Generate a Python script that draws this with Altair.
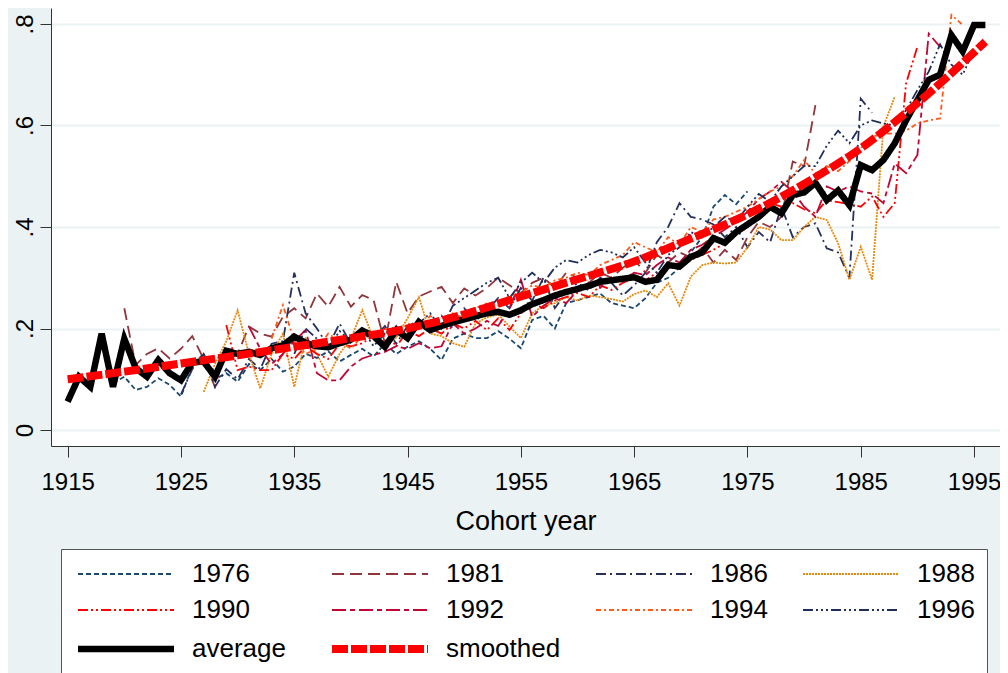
import altair as alt
import pandas as pd

# ---- data ----
series_names = ["1976", "1981", "1986", "1988", "1990", "1992", "1994", "1996", "average", "smoothed"]

start_1976 = 1919
vals_1976 = [.092, .105, .079, .085, .102, .089, .066, .125, .151, .100,
             .112, .095, .130, .118, .140, .115, .125, .150, .142, .155,
             .135, .148, .160, .145, .170, .150, .164, .175, .160, .138,
             .180, .190, .181, .181, .195, .180, .161, .217, .225, .200,
             .250, .256, .262, .269, .250, .245, .240, .260, .290, .300,
             .320, .350, .380, .440, .463, .445, .470]

start_1981 = 1920
vals_1981 = [.240, .128, .150, .161, .141, .160, .185, .140, .085, .160,
             .150, .204, .190, .184, .223, .240, .220, .269, .243, .282,
             .243, .266, .256, .171, .292, .230, .263, .273, .282, .250,
             .279, .265, .280, .300, .285, .270, .290, .300, .280, .310,
             .300, .290, .310, .300, .320, .335, .310, .345, .330, .350,
             .340, .360, .330, .355, .335, .380, .410, .400, .420, .529,
             .520, .640]

start_1986 = 1925
vals_1986 = [.070, .120, .150, .085, .120, .100, .140, .120, .170, .175,
             .310, .230, .200, .165, .210, .170, .200, .180, .205, .170,
             .205, .215, .190, .225, .200, .240, .215, .235, .260, .240,
             .280, .255, .300, .240, .270, .290, .275, .300, .290, .265,
             .285, .310, .370, .400, .447, .420, .415, .405, .380, .400,
             .360, .390, .370, .440, .380, .400, .407, .358, .350, .300,
             .653, .625]

start_1988 = 1927
vals_1988 = [.075, .130, .175, .236, .150, .082, .150, .190, .085, .180,
             .150, .105, .150, .180, .236, .180, .165, .182, .220, .262,
             .190, .185, .171, .164, .210, .222, .228, .204, .181, .230,
             .245, .250, .262, .255, .265, .262, .258, .253, .268, .275,
             .262, .289, .245, .302, .325, .330, .328, .330, .360, .400,
             .395, .374, .374, .400, .420, .414, .368, .296, .361, .296,
             .598, .657]

start_1990 = 1929
vals_1990 = [.207, .118, .125, .118, .118, .150, .140, .165, .150, .140,
             .170, .165, .171, .185, .200, .164, .195, .185, .200, .190,
             .210, .200, .215, .197, .220, .197, .230, .250, .240, .255,
             .262, .270, .262, .285, .276, .290, .300, .295, .310, .320,
             .318, .335, .345, .355, .368, .385, .400, .420, .447, .440,
             .447, .435, .427, .453, .449, .445, .440, .460, .420, .447,
             .683, .755]

start_1992 = 1931
vals_1992 = [.204, .160, .130, .150, .175, .197, .112, .098, .098, .125,
             .141, .148, .154, .165, .160, .171, .161, .165, .210, .190,
             .200, .215, .205, .240, .296, .223, .245, .260, .250, .275,
             .290, .280, .300, .295, .310, .305, .325, .340, .330, .355,
             .365, .380, .395, .410, .430, .455, .470, .489, .470, .440,
             .420, .480, .470, .480, .470, .466, .447, .525, .506, .542,
             .781, .755]

start_1994 = 1933
vals_1994 = [.180, .246, .175, .150, .160, .190, .175, .160, .185, .190,
             .200, .185, .210, .200, .225, .205, .230, .220, .240, .250,
             .245, .265, .270, .285, .280, .295, .300, .310, .305, .325,
             .335, .345, .370, .360, .350, .380, .365, .400, .390, .415,
             .420, .430, .440, .455, .470, .480, .500, .532, .505, .520,
             .510, .530, .555, .578, .584, .584, .590, .604, .610, .614,
             .818, .798]

start_1996 = 1935
vals_1996 = [.150, .200, .180, .160, .195, .175, .200, .165, .190, .205,
             .180, .210, .230, .200, .245, .260, .275, .290, .300, .260,
             .290, .310, .290, .320, .335, .330, .345, .355, .350, .340,
             .360, .330, .310, .345, .360, .390, .380, .400, .420, .410,
             .440, .465, .450, .480, .500, .520, .520, .560, .590, .565,
             .600, .610, .604, .600, .630, .670, .706, .760, .720, .700,
             .749]

start_avg = 1915
vals_avg = [.056, .105, .085, .190, .085, .180, .122, .105, .138, .112,
            .098, .133, .135, .105, .156, .150, .154, .148, .161, .167,
            .184, .172, .165, .163, .171, .178, .196, .185, .164, .197,
            .181, .213, .197, .205, .212, .218, .224, .230, .233, .227,
            .236, .248, .256, .265, .272, .278, .284, .292, .295, .298,
            .301, .292, .296, .325, .322, .341, .350, .378, .369, .390,
            .405, .420, .440, .427, .463, .468, .487, .453, .472, .443,
            .522, .512, .532, .565, .610, .650, .690, .700, .778, .746,
            .798, .798]

smooth_years = [1915, 1920, 1925, 1930, 1935, 1940, 1945, 1950, 1955,
                1960, 1965, 1970, 1975, 1980, 1985, 1990, 1996]
smooth_vals = [.100, .115, .131, .147, .164, .181, .200, .228, .263,
               .297, .332, .377, .425, .485, .555, .644, .765]

# ---- styles ----
series_colors = ["#1a476f", "#90353b", "#27305c", "#e8890c", "#ff0000",
                 "#c10534", "#ff5a1a", "#1f2d5c", "#000000", "#ff0000"]
series_dashes = [[5, 3], [12, 6], [10, 4, 2, 4], [2, 1], [10, 3, 2, 3, 2, 3],
                 [14, 4, 5, 4], [5, 3, 2, 3], [10, 3, 2, 3, 2, 3, 2, 3], [1, 0], [16, 3]]
series_widths = [1.8, 1.8, 1.8, 1.8, 1.8, 1.8, 1.8, 1.8, 6.5, 8]

rows = []
for name, start, vals in [("1976", start_1976, vals_1976), ("1981", start_1981, vals_1981),
                          ("1986", start_1986, vals_1986), ("1988", start_1988, vals_1988),
                          ("1990", start_1990, vals_1990), ("1992", start_1992, vals_1992),
                          ("1994", start_1994, vals_1994), ("1996", start_1996, vals_1996),
                          ("average", start_avg, vals_avg)]:
    for i, v in enumerate(vals):
        rows.append({"series": name, "year": start + i, "value": v})
df_lines = pd.DataFrame(rows)
df_smooth = pd.DataFrame({"series": "smoothed", "year": smooth_years, "value": smooth_vals})

legend = alt.Legend(title=None)
x_enc = alt.X("year:Q",
              scale=alt.Scale(domain=[1913.53, 1997.29], nice=False, zero=False),
              axis=alt.Axis(values=list(range(1915, 1996, 10)), format="d", title="Cohort year",
                            grid=False, labelPadding=13, titlePadding=14, labelFlush=False,
                            labelFontSize=24, titleFontSize=27))
y_enc = alt.Y("value:Q",
              scale=alt.Scale(domain=[-0.0315, 0.8315], nice=False, zero=False),
              axis=alt.Axis(values=[0, 0.2, 0.4, 0.6, 0.8], title=None, grid=True,
                            gridColor="#eaf2f3", gridWidth=2, labelAngle=270,
                            labelAlign="center", labelBaseline="alphabetic", labelPadding=8,
                            labelFlush=False, labelFontSize=24,
                            labelExpr="datum.value == 0 ? '0' : replace(format(datum.value, '.1f'), '0.', '.')"))
color_enc = alt.Color("series:N", sort=series_names,
                      scale=alt.Scale(domain=series_names, range=series_colors), legend=legend)
dash_enc = alt.StrokeDash("series:N", sort=series_names,
                          scale=alt.Scale(domain=series_names, range=series_dashes), legend=legend)
width_enc = alt.StrokeWidth("series:N", sort=series_names,
                            scale=alt.Scale(type="ordinal", domain=series_names, range=series_widths),
                            legend=legend)

lines = alt.Chart(df_lines).mark_line().encode(
    x=x_enc, y=y_enc, color=color_enc, strokeDash=dash_enc, strokeWidth=width_enc,
    detail="series:N")
smooth = alt.Chart(df_smooth).mark_line(interpolate="monotone").encode(
    x=x_enc, y=y_enc, color=color_enc, strokeDash=dash_enc, strokeWidth=width_enc)

chart = alt.layer(lines, smooth).properties(
    width=949, height=438,
    autosize=alt.AutoSizeParams(type="none"),
    padding={"left": 43, "top": 0, "right": 0, "bottom": 228},
    background="#eaf2f3",
).configure_view(
    fill="white", strokeWidth=0
).configure_axis(
    labelFont="Liberation Sans", titleFont="Liberation Sans",
    labelColor="black", titleColor="black",
    titleFontWeight="normal", domainColor="#333333", tickColor="#333333",
    tickSize=11, domainWidth=1, tickWidth=1
).configure_legend(
    orient="none", legendX=10, legendY=541, direction="horizontal", columns=4,
    symbolType="M-1,0H11", symbolSize=256, labelFont="Liberation Sans", labelFontSize=26,
    labelColor="black", labelOffset=93, rowPadding=10, columnPadding=30, gridAlign="each",
    fillColor="white", strokeColor="#555555", padding=12, labelLimit=300
)

chart.save("out.html", embed_options={"renderer": "svg", "actions": False})
